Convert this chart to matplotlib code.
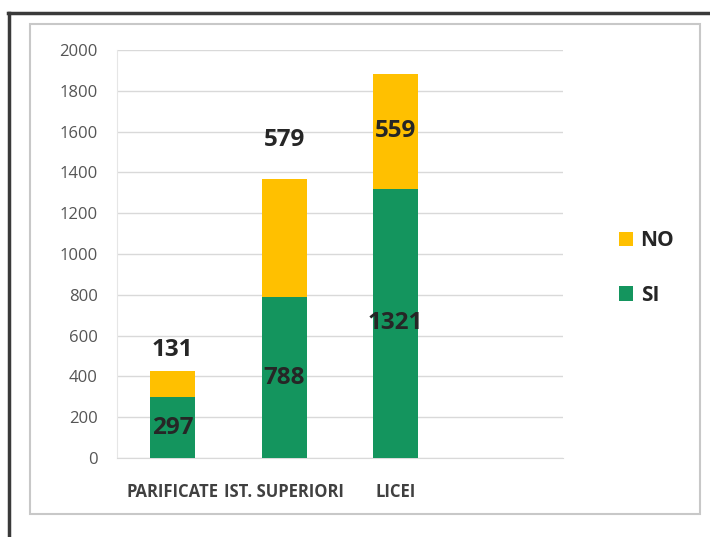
import matplotlib.pyplot as plt
from matplotlib.patches import Rectangle

categories = ["PARIFICATE", "IST. SUPERIORI", "LICEI"]
si_values = [297, 788, 1321]
no_values = [131, 579, 559]
# extra headroom above the stack for the NO labels (0 = centred in segment)
no_label_lift = [100, 190, 0]

yticks = list(range(0, 2001, 200))

YELLOW = "#FFC000"
GREEN = "#14955E"
TEXT = "#262626"

plt.rcParams["font.family"] = ["Open Sans", "DejaVu Sans"]

fig = plt.figure(figsize=(7.10, 5.37), dpi=100)

# outer frame (dark, top + left) and inner chart-area border
fig.add_artist(plt.Line2D([8 / 710, 1.0], [1 - 13 / 537, 1 - 13 / 537],
                          color="#3a3a3a", lw=2.5, transform=fig.transFigure))
fig.add_artist(plt.Line2D([9 / 710, 9 / 710], [0.0, 1 - 13 / 537],
                          color="#3a3a3a", lw=2.5, transform=fig.transFigure))
fig.add_artist(Rectangle((30 / 710, 1 - 514 / 537), 670 / 710, 490 / 537,
                         transform=fig.transFigure, fill=False,
                         edgecolor="#c8c8c8", lw=1.5))

ax = fig.add_axes([117 / 710, 1 - 458 / 537, 446 / 710, 408 / 537])

x = list(range(len(categories)))
width = 0.4
ax.bar(x, si_values, width, color=GREEN, label="SI", zorder=3)
ax.bar(x, no_values, width, bottom=si_values, color=YELLOW, label="NO", zorder=3)

for i in x:
    ax.text(i, si_values[i] / 2, str(si_values[i]), ha="center", va="center",
            fontsize=17.5, fontweight="bold", color=TEXT, zorder=4)
    if no_label_lift[i]:
        y = si_values[i] + no_values[i] + no_label_lift[i]
    else:
        y = si_values[i] + no_values[i] / 2
    ax.text(i, y, str(no_values[i]), ha="center", va="center",
            fontsize=17.5, fontweight="bold", color=TEXT, zorder=4)

ax.set_xlim(-0.5, 3.5)
ax.set_ylim(0, 2000)
ax.set_yticks(yticks)
ax.set_yticklabels([str(t) for t in yticks], fontsize=12, color="#555555")
ax.set_xticks(x)
ax.set_xticklabels(categories, fontsize=12, fontweight="bold", color="#404040")
ax.tick_params(axis="y", length=0, pad=14)
ax.tick_params(axis="x", length=0, pad=18)
ax.grid(axis="y", color="#d9d9d9", lw=1, zorder=0)
for side in ["top", "right"]:
    ax.spines[side].set_visible(False)
ax.spines["left"].set_color("#e6e6e6")
ax.spines["bottom"].set_color("#d9d9d9")

handles, labels = ax.get_legend_handles_labels()
fig.legend(handles[::-1], labels[::-1], loc="center left",
           bbox_to_anchor=(600 / 710, 1 - 268 / 537), frameon=False,
           prop={"size": 15, "weight": "bold"}, labelcolor=TEXT,
           handlelength=0.7, handleheight=0.7, handletextpad=0.35,
           labelspacing=1.6)

fig.savefig("out.png", dpi=100)
